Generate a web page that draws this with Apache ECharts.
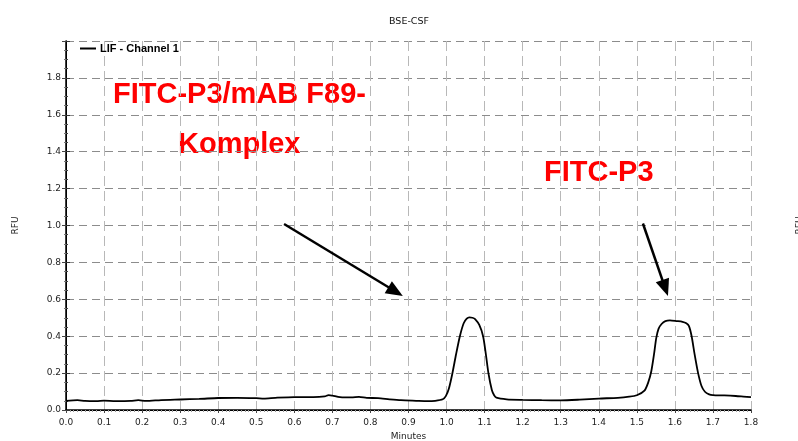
<!DOCTYPE html>
<html>
<head>
<meta charset="utf-8">
<script src="https://cdn.jsdelivr.net/npm/echarts@6/dist/echarts.min.js"></script>
<style>
html, body { margin: 0; padding: 0; background: #fff; }
#chart { width: 798px; height: 441px; }
</style>
</head>
<body>
<div id="chart"></div>
<script>
// Electropherogram, LIF detector, channel 1
const chartTitle = 'BSE-CSF';
const seriesName = 'LIF - Channel 1';
const xAxisName = 'Minutes';
const yAxisName = 'RFU';

// migration time (min)
const minutes = [
  0.00, 0.03, 0.05, 0.08, 0.10, 0.13, 0.17, 0.19, 0.21, 0.25,
  0.30, 0.35, 0.40, 0.45, 0.50, 0.52, 0.55, 0.60, 0.65, 0.68,
  0.69, 0.70, 0.72, 0.75, 0.77, 0.79, 0.82, 0.85, 0.88, 0.92,
  0.95, 0.97, 0.99, 0.998, 1.006, 1.015, 1.025, 1.035, 1.045, 1.053,
  1.060, 1.068, 1.075, 1.086, 1.096, 1.103, 1.110, 1.119, 1.125, 1.131,
  1.158, 1.20, 1.25, 1.30, 1.35, 1.40, 1.45, 1.48, 1.50, 1.52,
  1.530, 1.538, 1.545, 1.551, 1.557, 1.565, 1.575, 1.587, 1.605, 1.620,
  1.630, 1.637, 1.644, 1.652, 1.661, 1.670, 1.679, 1.690, 1.700, 1.730,
  1.760, 1.780, 1.800
];

// fluorescence signal (RFU)
const rfu = [
  0.050, 0.053, 0.049, 0.048, 0.051, 0.048, 0.049, 0.053, 0.049, 0.054,
  0.057, 0.060, 0.065, 0.066, 0.064, 0.062, 0.066, 0.070, 0.070, 0.074,
  0.081, 0.078, 0.070, 0.068, 0.071, 0.066, 0.064, 0.058, 0.053, 0.050,
  0.048, 0.050, 0.058, 0.075, 0.115, 0.195, 0.302, 0.400, 0.470, 0.495,
  0.502, 0.500, 0.493, 0.461, 0.400, 0.307, 0.200, 0.108, 0.080, 0.067,
  0.058, 0.055, 0.053, 0.052, 0.056, 0.062, 0.066, 0.072, 0.080, 0.105,
  0.150, 0.210, 0.300, 0.390, 0.440, 0.466, 0.482, 0.486, 0.482, 0.478,
  0.470, 0.455, 0.400, 0.300, 0.200, 0.130, 0.099, 0.085, 0.081, 0.079,
  0.076, 0.073, 0.070
];

// arrows pointing at the two peaks: [tail, head] in (min, RFU)
const complexArrow = [[0.573, 1.008], [0.866, 0.642]];
const freeArrow = [[1.516, 1.011], [1.5745, 0.661]];

// peak annotations
const complexLabelTop = 'FITC-P3/mAB F89-';
const complexLabelBottom = 'Komplex';
const freeLabel = 'FITC-P3';

const axisFont = { fontFamily: 'DejaVu Sans', fontSize: 9, color: '#222' };
const noteFont = 'bold 29px "Liberation Sans", Arial, sans-serif';

const chart = echarts.init(document.getElementById('chart'), null, { renderer: 'canvas' });

chart.setOption({
  animation: false,
  backgroundColor: '#fff',
  title: {
    text: chartTitle,
    left: 384,
    top: 12,
    textStyle: { fontFamily: 'DejaVu Sans', fontSize: 9.5, fontWeight: 'normal', color: '#111' }
  },
  legend: {
    left: 80,
    top: 43,
    padding: 0,
    itemWidth: 16,
    itemHeight: 2,
    itemGap: 4,
    icon: 'rect',
    data: [seriesName],
    textStyle: { fontFamily: '"Liberation Sans", Arial', fontSize: 11, fontWeight: 'bold', color: '#000', padding: [0, 0, 0, -1] }
  },
  grid: { left: 66, right: 47, top: 41, bottom: 31, containLabel: false, outerBoundsMode: 'none' },
  xAxis: [
    {
      type: 'value', position: 'bottom', min: 0, max: 1.8, interval: 0.1,
      name: xAxisName, nameLocation: 'middle', nameGap: 22,
      nameTextStyle: axisFont,
      axisLine: { show: true, lineStyle: { color: '#000', width: 1 } },
      axisTick: { show: true, length: 3, lineStyle: { color: '#444' } },
      minorTick: { show: true, splitNumber: 10, length: 2, lineStyle: { color: '#999' } },
      axisLabel: Object.assign({ margin: 8, formatter: v => v.toFixed(1) }, axisFont),
      splitLine: { show: true, lineStyle: { color: '#b8b8b8', type: [10, 5], width: 1 } }
    },
    {
      type: 'value', position: 'top', min: 0, max: 1.8, interval: 0.1,
      axisLine: { show: true, lineStyle: { color: '#000', width: 1.5 } },
      axisTick: { show: false }, axisLabel: { show: false }, splitLine: { show: false }
    }
  ],
  yAxis: [
    {
      type: 'value', position: 'left', min: 0, max: 2.0, interval: 0.2,
      name: yAxisName, nameLocation: 'middle', nameGap: 46, nameRotate: 90,
      nameTextStyle: axisFont,
      axisLine: { show: true, lineStyle: { color: '#000', width: 1 } },
      axisTick: { show: true, length: 4, lineStyle: { color: '#444' } },
      minorTick: { show: true, splitNumber: 4, length: 2, lineStyle: { color: '#777' } },
      axisLabel: Object.assign({ margin: 5, formatter: v => (v >= 2 ? '' : v.toFixed(1)) }, axisFont),
      splitLine: { show: true, lineStyle: { color: '#8c8c8c', type: [8, 5], width: 1 } }
    },
    {
      type: 'value', position: 'right', min: 0, max: 2.0, interval: 0.2,
      name: yAxisName, nameLocation: 'middle', nameGap: 44, nameRotate: 90,
      nameTextStyle: axisFont,
      axisLine: { show: true, lineStyle: { color: '#000', width: 1.5 } },
      axisTick: { show: true, length: 4, lineStyle: { color: '#333' } },
      minorTick: { show: true, splitNumber: 4, length: 2, lineStyle: { color: '#444' } },
      axisLabel: { show: false },
      splitLine: { show: false }
    }
  ],
  series: [
    {
      name: seriesName,
      type: 'line',
      xAxisIndex: 0,
      yAxisIndex: 0,
      data: minutes.map((t, i) => [t, rfu[i]]),
      showSymbol: false,
      smooth: 0.25,
      color: '#000',
      lineStyle: { color: '#000', width: 1.8 },
      markLine: {
        silent: true,
        symbol: ['none', 'triangle'],
        symbolSize: [14, 17],
        label: { show: false },
        lineStyle: { color: '#000', width: 2.5, type: 'solid' },
        itemStyle: { color: '#000' },
        data: [
          [{ coord: complexArrow[0] }, { coord: complexArrow[1] }],
          [{ coord: freeArrow[0] }, { coord: freeArrow[1] }]
        ]
      }
    }
  ],
  graphic: [
    { type: 'text', left: 113, top: 80, silent: true,
      style: { text: complexLabelTop, font: noteFont, fill: '#ff0000' } },
    { type: 'text', left: 178, top: 130, silent: true,
      style: { text: complexLabelBottom, font: noteFont, fill: '#ff0000' } },
    { type: 'text', left: 544, top: 158, silent: true,
      style: { text: freeLabel, font: noteFont, fill: '#ff0000' } }
  ]
});
</script>
</body>
</html>
